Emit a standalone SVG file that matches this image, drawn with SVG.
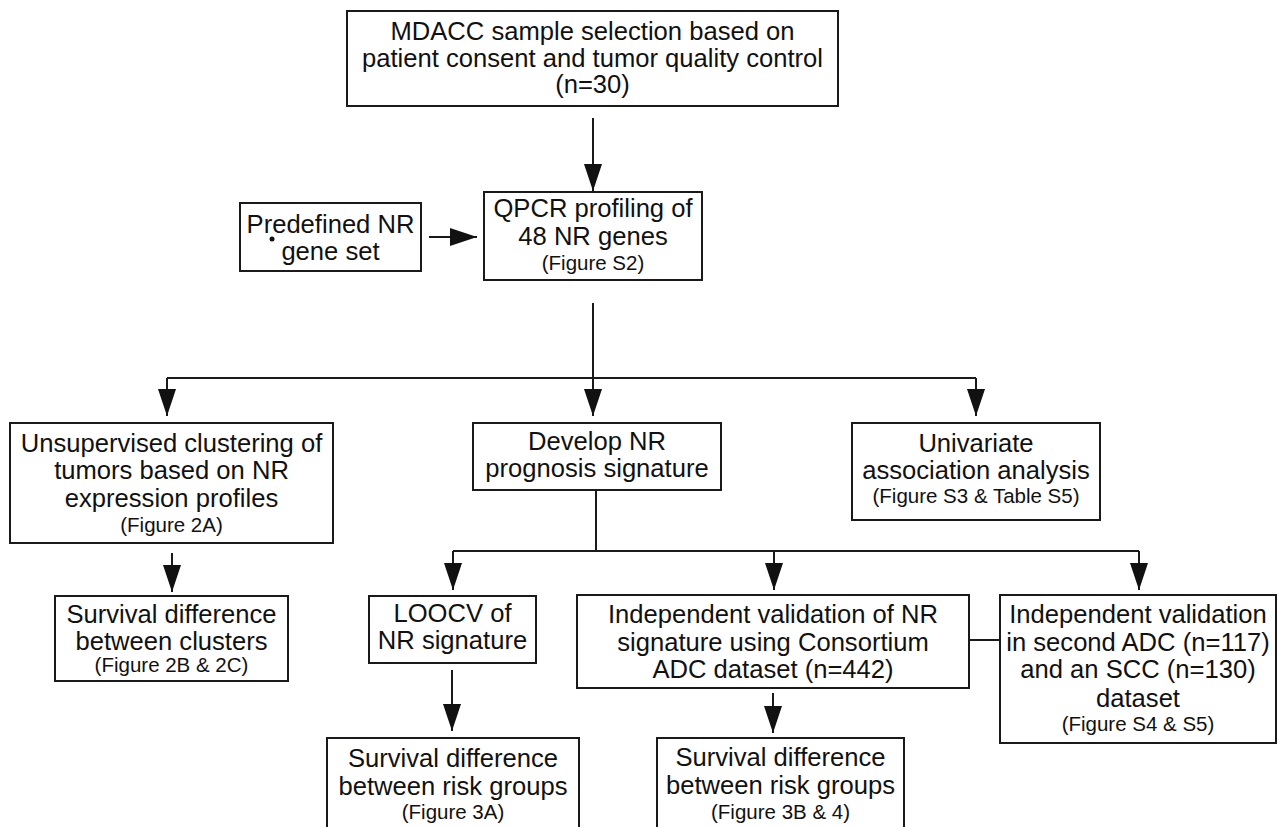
<svg xmlns="http://www.w3.org/2000/svg" width="1278" height="827" viewBox="0 0 1278 827">
<style>
.box{fill:#fff;stroke:#1a1a1a;stroke-width:2}
.ln{fill:none;stroke:#1a1a1a;stroke-width:2}
text{font-family:"Liberation Sans",Arial,Helvetica,sans-serif;fill:#111;text-anchor:middle}
.m{font-size:25.6px}
.s{font-size:20.5px}
</style>
<defs>
<marker id="ah" markerUnits="userSpaceOnUse" viewBox="0 0 27 18" refX="27" refY="9" markerWidth="27" markerHeight="18" orient="auto">
<path d="M0,0 L27,9 L0,18 Z" fill="#111"/>
</marker>
</defs>
<rect width="1278" height="827" fill="#fff"/>
<g id="connectors">
<path class="ln" d="M593,118 V191" marker-end="url(#ah)"/>
<path class="ln" d="M429,237 H477" marker-end="url(#ah)"/>
<path class="ln" d="M593,303 V378 M167,378 H976"/>
<path class="ln" d="M167,378 V416" marker-end="url(#ah)"/>
<path class="ln" d="M593,378 V416" marker-end="url(#ah)"/>
<path class="ln" d="M976,378 V416" marker-end="url(#ah)"/>
<path class="ln" d="M172,553 V592" marker-end="url(#ah)"/>
<path class="ln" d="M596,490 V551 M453,551 H1139"/>
<path class="ln" d="M453,551 V590" marker-end="url(#ah)"/>
<path class="ln" d="M774,551 V590" marker-end="url(#ah)"/>
<path class="ln" d="M1139,551 V590" marker-end="url(#ah)"/>
<path class="ln" d="M969,640 H1000"/>
<path class="ln" d="M452,670 V731" marker-end="url(#ah)"/>
<path class="ln" d="M773,693 V733" marker-end="url(#ah)"/>
</g>
<g id="n_mdacc">
<rect class="box" x="347" y="11" width="491" height="95"/>
<text class="m" x="592.5" y="40">MDACC sample selection based on</text>
<text class="m" x="592.5" y="67">patient consent and tumor quality control</text>
<text class="m" x="592.5" y="93">(n=30)</text>
</g>
<g id="n_predef">
<rect class="box" x="240" y="203" width="181" height="68"/>
<text class="m" x="330.5" y="233">Predefined NR</text>
<text class="m" x="330.5" y="260">gene set</text>
<circle cx="272" cy="239" r="2.5" fill="#111"/>
</g>
<g id="n_qpcr">
<rect class="box" x="484" y="192" width="218" height="88"/>
<text class="m" x="593" y="217">QPCR profiling of</text>
<text class="m" x="593" y="245">48 NR genes</text>
<text class="s" x="593" y="270">(Figure S2)</text>
</g>
<g id="n_unsup">
<rect class="box" x="10" y="423" width="323" height="120"/>
<text class="m" x="171.5" y="452">Unsupervised clustering of</text>
<text class="m" x="171.5" y="479">tumors based on NR</text>
<text class="m" x="171.5" y="507">expression profiles</text>
<text class="s" x="171.5" y="532">(Figure 2A)</text>
</g>
<g id="n_develop">
<rect class="box" x="473" y="423" width="248" height="67"/>
<text class="m" x="597" y="450">Develop NR</text>
<text class="m" x="597" y="477">prognosis signature</text>
</g>
<g id="n_univ">
<rect class="box" x="852" y="423" width="248" height="97"/>
<text class="m" x="976" y="452">Univariate</text>
<text class="m" x="976" y="479">association analysis</text>
<text class="s" x="976" y="503">(Figure S3 &amp; Table S5)</text>
</g>
<g id="n_clusters">
<rect class="box" x="55" y="596" width="233" height="85"/>
<text class="m" x="171.5" y="623">Survival difference</text>
<text class="m" x="171.5" y="650">between clusters</text>
<text class="s" x="171.5" y="672">(Figure 2B &amp; 2C)</text>
</g>
<g id="n_loocv">
<rect class="box" x="369" y="596" width="167" height="67"/>
<text class="m" x="452.5" y="622">LOOCV of</text>
<text class="m" x="452.5" y="649">NR signature</text>
</g>
<g id="n_indep">
<rect class="box" x="577" y="595" width="392" height="93"/>
<text class="m" x="773" y="623">Independent validation of NR</text>
<text class="m" x="773" y="651">signature using Consortium</text>
<text class="m" x="773" y="678">ADC dataset (n=442)</text>
</g>
<g id="n_second">
<rect class="box" x="1000" y="595" width="276" height="148"/>
<text class="m" x="1138" y="623">Independent validation</text>
<text class="m" x="1138" y="651">in second ADC (n=117)</text>
<text class="m" x="1138" y="678">and an SCC (n=130)</text>
<text class="m" x="1138" y="707">dataset</text>
<text class="s" x="1138" y="731">(Figure S4 &amp; S5)</text>
</g>
<g id="n_risk1">
<rect class="box" x="327" y="738" width="252" height="100"/>
<text class="m" x="453" y="767">Survival difference</text>
<text class="m" x="453" y="795">between risk groups</text>
<text class="s" x="453" y="819">(Figure 3A)</text>
</g>
<g id="n_risk2">
<rect class="box" x="657" y="738" width="247" height="100"/>
<text class="m" x="780.5" y="766">Survival difference</text>
<text class="m" x="780.5" y="794">between risk groups</text>
<text class="s" x="780.5" y="819">(Figure 3B &amp; 4)</text>
</g>
</svg>
